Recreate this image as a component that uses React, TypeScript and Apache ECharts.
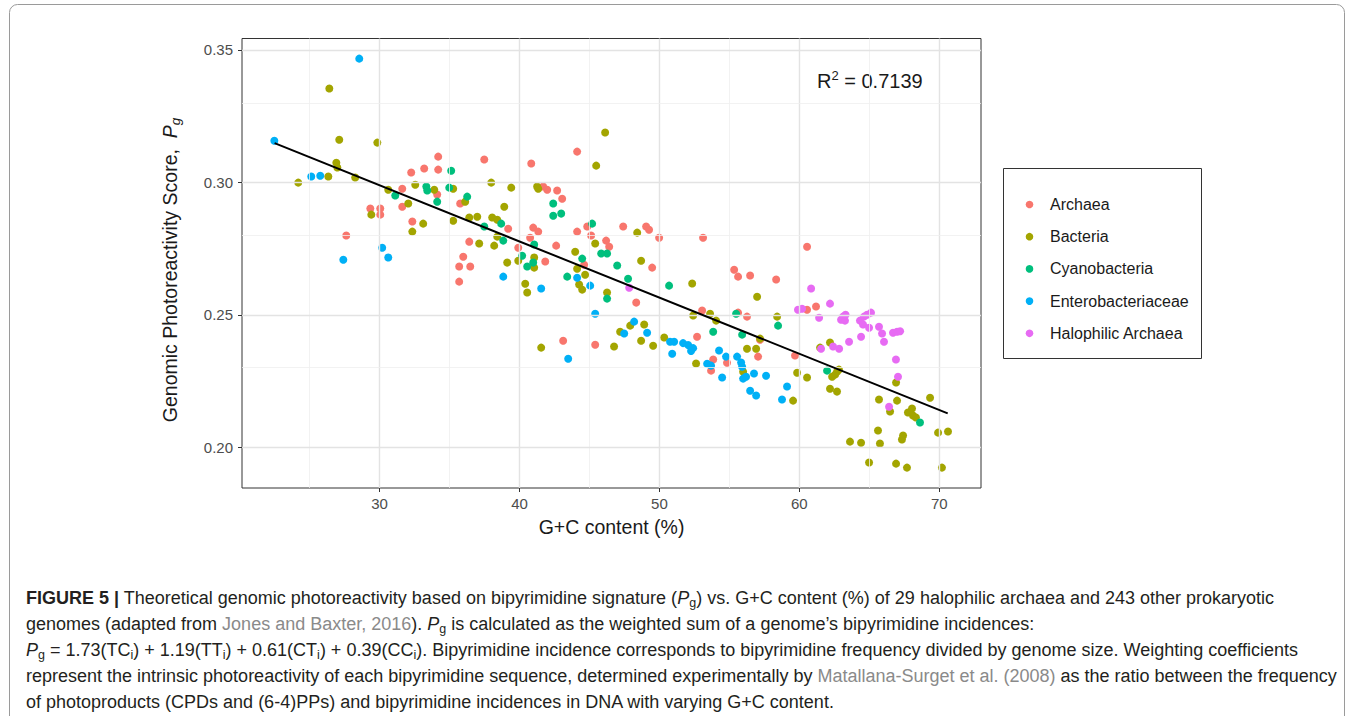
import React, { useEffect, useRef } from "react";
import * as echarts from "echarts";

const groupNames = ["Archaea", "Bacteria", "Cyanobacteria", "Enterobacteriaceae", "Halophilic Archaea"];
const groupColors = ["#F8766D", "#A3A500", "#00BF7D", "#00B0F6", "#E76BF3"];

const archaea: number[][] = [
  [34.19, 0.3097], [33.19, 0.3052], [34.19, 0.3048], [32.26, 0.3037], [31.62, 0.2976], [34.12, 0.2954],
  [31.62, 0.2908], [29.34, 0.2901], [30.05, 0.2901], [30.05, 0.2878], [32.34, 0.2852], [27.62, 0.2799],
  [35.76, 0.292], [36.41, 0.2776], [35.98, 0.2719], [35.69, 0.2682], [36.48, 0.2682], [35.69, 0.2625],
  [37.48, 0.3086], [40.84, 0.3071], [44.12, 0.3116], [41.69, 0.2984], [41.98, 0.2972], [42.69, 0.2969],
  [43.05, 0.2938], [39.19, 0.2825], [40.98, 0.2829], [41.34, 0.2814], [40.76, 0.2791], [39.91, 0.2753],
  [42.62, 0.2761], [41.84, 0.2701], [44.12, 0.2814], [44.84, 0.2833], [45.12, 0.2799], [46.19, 0.278],
  [46.41, 0.2757], [47.41, 0.2833], [49.05, 0.2833], [49.26, 0.2821], [49.98, 0.2791], [53.12, 0.2791],
  [49.48, 0.2678], [44.62, 0.2689], [48.34, 0.2546], [43.12, 0.2402], [45.41, 0.2387], [52.69, 0.2417],
  [53.05, 0.2516], [53.84, 0.2331], [53.69, 0.2289], [54.83, 0.2319], [55.34, 0.267], [55.62, 0.2644],
  [56.48, 0.2648], [58.34, 0.2633], [55.62, 0.2508], [56.26, 0.2493], [60.55, 0.2519], [61.19, 0.2531],
  [57.05, 0.2342], [57.19, 0.2406], [59.69, 0.2346], [60.55, 0.2757],
];

const bacteria: number[][] = [
  [26.41, 0.3354], [27.12, 0.3161], [29.84, 0.315], [26.91, 0.3074], [26.98, 0.3056], [24.19, 0.2999],
  [26.34, 0.3022], [28.26, 0.3018], [30.62, 0.2972], [32.55, 0.2991], [33.91, 0.2972], [35.26, 0.2976],
  [36.12, 0.2927], [32.05, 0.292], [29.41, 0.2878], [32.34, 0.2814], [33.12, 0.2844], [35.26, 0.2855],
  [36.41, 0.2867], [36.98, 0.287], [37.12, 0.2769], [37.98, 0.2999], [39.41, 0.298], [38.91, 0.2908],
  [38.05, 0.2867], [38.41, 0.2859], [38.19, 0.2761], [38.41, 0.2795], [39.12, 0.2697], [39.91, 0.2704],
  [41.05, 0.2716], [41.05, 0.2678], [40.41, 0.2617], [40.55, 0.2584], [41.26, 0.2984], [41.34, 0.2976],
  [41.55, 0.2376], [46.12, 0.3188], [45.48, 0.3063], [43.98, 0.2738], [45.41, 0.2769], [44.12, 0.2674],
  [44.69, 0.2651], [44.26, 0.2614], [44.48, 0.2595], [46.26, 0.2584], [48.41, 0.281], [48.69, 0.2704],
  [52.34, 0.2618], [47.19, 0.2436], [47.91, 0.2459], [48.91, 0.2463], [48.69, 0.2402], [49.55, 0.2383],
  [46.76, 0.238], [50.34, 0.2414], [52.62, 0.2316], [52.41, 0.2497], [53.62, 0.2504], [54.05, 0.2478],
  [56.98, 0.2568], [58.41, 0.2493], [57.19, 0.241], [56.26, 0.2372], [56.91, 0.2372], [55.98, 0.2285],
  [59.84, 0.2281], [60.55, 0.2263], [59.55, 0.2176], [62.19, 0.2395], [61.48, 0.2376], [62.34, 0.2266],
  [62.55, 0.2274], [62.69, 0.2285], [62.83, 0.2293], [62.19, 0.2221], [62.69, 0.221], [66.91, 0.2244],
  [69.34, 0.2187], [65.69, 0.218], [66.98, 0.2176], [66.48, 0.2135], [67.76, 0.2131], [68.05, 0.2146],
  [68.12, 0.212], [68.33, 0.2112], [65.62, 0.2063], [63.62, 0.2021], [64.41, 0.2017], [65.76, 0.2014],
  [67.33, 0.2029], [67.41, 0.2044], [69.91, 0.2055], [70.62, 0.2059], [64.98, 0.1942], [66.91, 0.1938],
  [67.69, 0.1923], [70.19, 0.1923],
];

const cyanobacteria: number[][] = [
  [35.12, 0.3044], [31.12, 0.295], [33.34, 0.2984], [33.41, 0.2969], [34.12, 0.2927], [34.98, 0.298],
  [36.26, 0.2946], [37.48, 0.2833], [38.69, 0.2844], [38.84, 0.278], [40.19, 0.2723], [40.55, 0.2682],
  [40.98, 0.2697], [42.41, 0.292], [42.41, 0.2874], [42.98, 0.2882], [43.41, 0.2644], [45.19, 0.2844],
  [45.84, 0.2731], [46.26, 0.2731], [44.48, 0.2712], [41.05, 0.2765], [46.26, 0.2561], [46.98, 0.2686],
  [47.76, 0.2636], [50.69, 0.261], [53.84, 0.2436], [55.48, 0.2504], [55.91, 0.2425], [58.48, 0.2459],
  [61.98, 0.2289], [68.62, 0.2093],
];

const enterobacteriaceae: number[][] = [
  [22.48, 0.3157], [28.55, 0.3467], [25.12, 0.3022], [25.76, 0.3025], [30.19, 0.2753], [30.62, 0.2716],
  [27.41, 0.2708], [38.84, 0.2644], [41.55, 0.2599], [43.48, 0.2334], [44.12, 0.264], [45.05, 0.261],
  [45.41, 0.2504], [48.19, 0.2474], [47.48, 0.2429], [49.12, 0.2432], [50.76, 0.2398], [51.05, 0.2398],
  [50.91, 0.2353], [51.69, 0.2393], [52.05, 0.2386], [52.41, 0.2374], [52.26, 0.2363], [53.41, 0.2315],
  [53.69, 0.2308], [54.48, 0.2263], [54.26, 0.2365], [54.76, 0.2342], [55.55, 0.2342], [55.84, 0.232],
  [55.91, 0.2304], [55.98, 0.2259], [56.19, 0.2266], [56.76, 0.2278], [57.62, 0.227], [56.48, 0.2213],
  [56.91, 0.2195], [59.12, 0.2229], [58.76, 0.218],
];

const halophilicArchaea: number[][] = [
  [60.84, 0.2599], [59.9, 0.2519], [60.19, 0.2523], [62.19, 0.2542], [61.41, 0.2489], [63.12, 0.2493],
  [62.98, 0.2481], [63.26, 0.2478], [63.3, 0.25], [64.33, 0.2478], [64.62, 0.2493], [64.84, 0.25],
  [65.12, 0.2508], [64.55, 0.2463], [64.98, 0.2451], [65.69, 0.2455], [65.91, 0.2429], [66.05, 0.2398],
  [66.69, 0.2432], [66.98, 0.2436], [67.2, 0.2438], [64.41, 0.2417], [63.55, 0.2398], [61.55, 0.2372],
  [62.41, 0.238], [62.84, 0.2372], [66.9, 0.2331], [67.05, 0.2266], [66.41, 0.2153], [47.84, 0.2602],
];

const fitX = [22.5, 70.6];
const fitY = [0.3148, 0.2128];

const xTicks = [30, 40, 50, 60, 70];
const xMinor = [25, 35, 45, 55, 65];
const yTicks = [0.2, 0.25, 0.3, 0.35];
const yMinor = [0.225, 0.275, 0.325];

const rSquared = "0.7139";

const FONT = "'Liberation Sans', Arial, sans-serif";

export default function App() {
  const ref = useRef<HTMLDivElement>(null);
  useEffect(() => {
    document.body.style.margin = "0";
    const chart = echarts.init(ref.current!, null, { renderer: "svg" });
    const allGroups = [archaea, bacteria, cyanobacteria, enterobacteriaceae, halophilicArchaea];

    const gridLines: any[] = [];
    xTicks.forEach((v) => gridLines.push({ xAxis: v, lineStyle: { color: "#e3e3e3", width: 1.4, type: "solid" } }));
    xMinor.forEach((v) => gridLines.push({ xAxis: v, lineStyle: { color: "#efefef", width: 0.8, type: "solid" } }));
    yTicks.forEach((v) => gridLines.push({ yAxis: v, lineStyle: { color: "#e3e3e3", width: 1.4, type: "solid" } }));
    yMinor.forEach((v) => gridLines.push({ yAxis: v, lineStyle: { color: "#efefef", width: 0.8, type: "solid" } }));

    const legendGraphics: any[] = [
      { type: "rect", shape: { x: 1003.5, y: 168.5, width: 198, height: 190 }, style: { fill: "#fff", stroke: "#333", lineWidth: 1 } },
    ];
    groupNames.forEach((name, i) => {
      const cy = 204.5 + i * 32.2;
      legendGraphics.push({ type: "circle", shape: { cx: 1029.5, cy, r: 3.8 }, style: { fill: groupColors[i] } });
      legendGraphics.push({
        type: "text", x: 1050, y: cy,
        style: { text: name, fontSize: 16, fontFamily: FONT, fill: "#1a1a1a", verticalAlign: "middle", align: "left" },
      });
    });

    const capBase = { fontSize: 18, fontFamily: FONT, fill: "#231f20", lineHeight: 22 };
    const capRich = {
      n: { ...capBase },
      b: { ...capBase, fontWeight: "bold" },
      i: { ...capBase, fontStyle: "italic" },
      g: { ...capBase, fill: "#8a8a8a" },
      s: { fontSize: 12.5, fontFamily: FONT, fill: "#231f20", lineHeight: 14, verticalAlign: "bottom" },
    };
    const captionLines = [
      "{b|FIGURE 5 |}{n| Theoretical genomic photoreactivity based on bipyrimidine signature (}{i|P}{s|g}{n|) vs. G+C content (%) of 29 halophilic archaea and 243 other prokaryotic}",
      "{n|genomes (adapted from }{g|Jones and Baxter, 2016}{n|). }{i|P}{s|g}{n| is calculated as the weighted sum of a genome\u2019s bipyrimidine incidences:}",
      "{i|P}{s|g}{n| = 1.73(TC}{s|i}{n|) + 1.19(TT}{s|i}{n|) + 0.61(CT}{s|i}{n|) + 0.39(CC}{s|i}{n|). Bipyrimidine incidence corresponds to bipyrimidine frequency divided by genome size. Weighting coefficients}",
      "{n|represent the intrinsic photoreactivity of each bipyrimidine sequence, determined experimentally by }{g|Matallana-Surget et al. (2008)}{n| as the ratio between the frequency}",
      "{n|of photoproducts (CPDs and (6-4)PPs) and bipyrimidine incidences in DNA with varying G+C content.}",
    ];
    const captionGraphics = captionLines.map((t, i) => ({
      type: "text", x: 26, y: 598 + i * 26,
      style: { text: t, rich: capRich, align: "left", verticalAlign: "middle" },
    }));

    const option: any = {
      animation: false,
      backgroundColor: "#fff",
      grid: { left: 242, top: 38.5, width: 739, height: 449.5, show: true, borderColor: "#333", borderWidth: 1, containLabel: false },
      xAxis: {
        type: "value", min: 20.17, max: 72.98,
        axisLine: { show: false },
        axisTick: { show: true, length: 4, lineStyle: { color: "#333" }, customValues: xTicks },
        axisLabel: { customValues: xTicks, color: "#4d4d4d", fontSize: 15, fontFamily: FONT, margin: 8 },
        splitLine: { show: false },
      },
      yAxis: {
        type: "value", min: 0.1846, max: 0.3543,
        axisLine: { show: false },
        axisTick: { show: true, length: 4, lineStyle: { color: "#333" }, customValues: yTicks },
        axisLabel: { customValues: yTicks, color: "#4d4d4d", fontSize: 15, fontFamily: FONT, margin: 9, formatter: (v: number) => v.toFixed(2) },
        splitLine: { show: false },
      },
      series: [
        {
          type: "scatter", data: [], silent: true, z: 1,
          markLine: { silent: true, symbol: ["none", "none"], label: { show: false }, animation: false, data: gridLines },
        },
        ...allGroups.map((d, i) => ({
          name: groupNames[i], type: "scatter", data: d, symbol: "circle", symbolSize: 8, z: 3,
          itemStyle: { color: groupColors[i], opacity: 1 },
        })),
        {
          type: "line", data: fitX.map((x, i) => [x, fitY[i]]), symbol: "none", z: 5,
          lineStyle: { color: "#000", width: 2 },
        },
      ],
      graphic: [
        {
          type: "rect", shape: { x: 9.5, y: 4.5, width: 1335, height: 760, r: 8 }, z: -10,
          style: { fill: "none", stroke: "#9a9a9a", lineWidth: 1 },
        },
        {
          type: "text", x: 817, y: 81,
          style: {
            text: "{r|R}{sup|2}{r| = " + rSquared + "}",
            rich: {
              r: { fontSize: 20, fontFamily: FONT, fill: "#1a1a1a", lineHeight: 25 },
              sup: { fontSize: 13, fontFamily: FONT, fill: "#1a1a1a", lineHeight: 14, verticalAlign: "top" },
            },
            align: "left", verticalAlign: "middle",
          },
        },
        {
          type: "text", x: 611.5, y: 527,
          style: { text: "G+C content (%)", fontSize: 19.5, fontFamily: FONT, fill: "#1a1a1a", align: "center", verticalAlign: "middle" },
        },
        {
          type: "text", x: 170, y: 270, rotation: Math.PI / 2,
          style: {
            text: "{n|Genomic Photoreactivity Score,  }{i|P}{s|g}",
            rich: {
              n: { fontSize: 19.5, fontFamily: FONT, fill: "#1a1a1a", lineHeight: 25 },
              i: { fontSize: 19.5, fontFamily: FONT, fill: "#1a1a1a", fontStyle: "italic", lineHeight: 25 },
              s: { fontSize: 13.5, fontFamily: FONT, fill: "#1a1a1a", fontStyle: "italic", lineHeight: 15, verticalAlign: "bottom" },
            },
            align: "center", verticalAlign: "middle",
          },
        },
        ...legendGraphics,
        ...captionGraphics,
      ],
    };
    chart.setOption(option);
    return () => chart.dispose();
  }, []);
  return <div ref={ref} style={{ width: 1357, height: 716 }} />;
}
